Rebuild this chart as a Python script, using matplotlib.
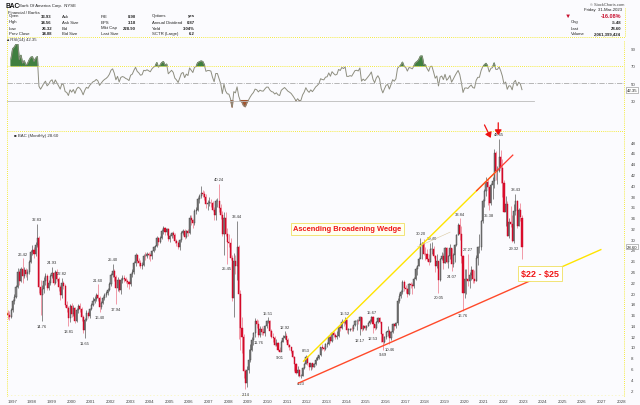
import numpy as np
import pandas as pd
import matplotlib
matplotlib.use("Agg")
import matplotlib.pyplot as plt

plt.rcParams["font.family"] = ["Liberation Sans", "DejaVu Sans"]

# ---- monthly candles, Jan 1997 .. Mar 2023 ----
start_year = 1997
close = [
    16.0, 15.6, 16.9, 18.6, 19.3, 21.2, 24.0, 22.2, 24.4, 23.2, 24.3, 23.6,   # 1997
    24.0, 25.8, 27.6, 28.0, 27.2, 29.0, 30.2, 21.2, 19.6, 20.8, 22.2, 23.2,   # 1998
    21.0, 21.8, 23.2, 23.8, 21.9, 23.9, 22.6, 21.2, 19.6, 21.9, 21.4, 17.8,   # 1999
    17.2, 15.3, 17.6, 16.2, 17.3, 14.9, 16.8, 17.6, 17.0, 15.6, 13.2, 15.0,   # 2000
    16.3, 15.8, 17.0, 17.8, 18.6, 18.9, 19.6, 19.1, 17.4, 18.2, 19.0, 19.6,   # 2001
    20.0, 20.6, 21.6, 23.4, 24.1, 23.0, 21.0, 22.4, 20.5, 22.4, 22.8, 22.6,   # 2002
    22.2, 22.0, 21.6, 23.5, 23.9, 25.5, 27.0, 26.0, 25.6, 25.0, 25.2, 26.9,   # 2003
    26.8, 27.2, 27.0, 26.8, 27.8, 28.5, 28.8, 30.3, 29.5, 30.3, 31.5, 32.0,   # 2004
    31.4, 31.8, 30.0, 30.6, 31.2, 30.8, 29.6, 29.2, 28.6, 29.8, 31.2, 31.5,   # 2005
    30.4, 31.5, 31.2, 34.0, 33.5, 33.0, 35.2, 35.5, 37.5, 38.0, 38.5, 38.4,   # 2006
    37.8, 36.5, 36.8, 36.8, 36.7, 35.5, 34.5, 37.0, 37.0, 35.8, 34.5, 31.0,   # 2007
    34.0, 31.0, 29.5, 29.3, 26.5, 19.0, 26.0, 25.0, 28.5, 19.8, 13.5, 11.8,   # 2008
    5.6, 3.3, 5.8, 7.5, 9.5, 11.2, 12.5, 14.9, 14.3, 12.3, 13.4, 12.7,        # 2009
    12.6, 13.8, 14.8, 14.8, 13.0, 11.9, 11.6, 10.3, 10.8, 9.5, 9.1, 11.0,     # 2010
    11.6, 12.1, 11.3, 10.4, 9.9, 9.3, 8.2, 6.9, 5.2, 5.8, 4.6, 4.7,           # 2011
    6.1, 6.9, 8.2, 7.0, 6.3, 7.0, 6.3, 6.9, 7.6, 8.0, 8.5, 10.0,              # 2012
    9.8, 9.7, 10.5, 10.6, 11.8, 11.1, 12.6, 12.2, 11.9, 12.1, 13.7, 13.5,     # 2013
    14.6, 14.4, 15.0, 13.2, 13.2, 13.4, 13.3, 14.0, 14.8, 14.9, 14.8, 15.6,   # 2014
    13.3, 13.8, 13.5, 13.9, 14.4, 14.9, 15.6, 14.3, 13.6, 14.7, 15.3, 14.7,   # 2015
    12.4, 11.0, 11.9, 12.8, 13.0, 11.7, 12.8, 14.2, 13.8, 14.5, 18.6, 19.5,   # 2016
    20.2, 22.0, 21.0, 20.8, 19.9, 21.6, 21.5, 21.3, 22.6, 24.4, 25.1, 26.3,   # 2017
    29.1, 29.2, 27.3, 27.2, 26.4, 25.7, 28.1, 28.2, 26.8, 25.0, 25.9, 22.4,   # 2018
    26.3, 26.9, 25.5, 28.3, 25.8, 26.8, 28.4, 25.4, 27.0, 28.9, 30.8, 32.6,   # 2019
    30.9, 26.8, 20.0, 22.6, 22.7, 22.3, 23.4, 24.2, 22.6, 22.3, 26.5, 28.5,   # 2020
    28.5, 33.3, 37.1, 38.9, 40.7, 39.6, 36.8, 40.1, 40.8, 45.9, 42.7, 42.7,   # 2021
    45.2, 43.3, 40.4, 35.0, 36.5, 30.5, 33.1, 32.9, 29.6, 35.3, 37.1, 32.5,   # 2022
    35.5, 34.08, 28.60,                                                      # 2023
]
high = [
    16.9, 16.6, 17.2, 18.9, 19.8, 21.5, 24.6, 24.3, 24.8, 26.42, 24.8, 24.6,
    24.5, 26.1, 28.0, 28.9, 28.5, 29.5, 32.83, 30.5, 22.5, 21.5, 23.0, 23.8,
    23.5, 22.5, 23.6, 24.93, 24.0, 24.2, 24.4, 23.0, 21.5, 22.82, 22.3, 21.6,
    18.5, 17.6, 18.0, 18.2, 17.8, 17.5, 17.2, 18.0, 18.2, 17.4, 15.9, 15.3,
    16.8, 16.6, 17.3, 18.2, 19.3, 19.5, 20.0, 21.6, 19.4, 18.6, 19.4, 20.0,
    20.4, 21.0, 22.0, 23.8, 25.4, 24.5, 23.4, 22.9, 22.6, 22.8, 23.4, 23.3,
    23.0, 22.6, 22.3, 23.8, 24.4, 26.0, 27.5, 27.2, 26.5, 26.2, 25.8, 27.2,
    27.6, 27.6, 27.6, 27.4, 28.0, 28.8, 29.0, 30.6, 30.4, 30.6, 31.8, 32.4,
    32.2, 32.0, 32.0, 30.9, 31.4, 31.5, 31.2, 30.0, 29.6, 30.0, 31.5, 31.8,
    31.8, 31.7, 31.8, 34.4, 34.5, 33.8, 35.6, 35.9, 37.8, 38.4, 39.8, 39.2,
    38.9, 38.4, 37.2, 37.8, 37.5, 37.0, 36.0, 37.4, 37.6, 40.24, 36.5, 35.2,
    35.0, 35.0, 32.0, 31.0, 30.2, 27.0, 27.5, 27.0, 33.44, 29.0, 20.5, 15.5,
    12.4, 6.0, 6.5, 9.6, 10.6, 11.9, 12.8, 15.3, 15.2, 15.0, 13.8, 13.8,
    13.6, 14.0, 15.0, 15.51, 15.0, 13.4, 12.6, 12.0, 11.4, 11.0, 10.0, 11.2,
    12.3, 12.92, 12.5, 11.6, 10.6, 10.0, 9.5, 8.3, 7.0, 6.4, 5.9, 4.9,
    6.3, 7.0, 8.53, 8.3, 7.1, 7.1, 7.1, 7.0, 8.1, 8.4, 8.6, 10.0,
    10.5, 10.2, 10.7, 10.9, 12.0, 12.0, 12.8, 12.9, 12.6, 13.0, 13.8, 14.0,
    15.1, 14.8, 15.52, 15.1, 13.5, 13.6, 13.8, 14.1, 15.0, 15.1, 15.1, 15.8,
    15.6, 14.0, 14.0, 14.1, 14.7, 15.1, 15.67, 15.7, 14.2, 14.9, 15.6, 15.5,
    14.7, 12.5, 12.1, 13.0, 13.9, 13.3, 12.9, 14.5, 14.3, 14.7, 19.0, 20.0,
    20.6, 22.4, 22.4, 21.5, 21.0, 21.9, 22.0, 21.8, 22.9, 24.8, 25.3, 26.7,
    30.2, 29.5, 30.0, 28.6, 28.2, 27.2, 29.2, 29.40, 28.8, 27.0, 27.3, 26.0,
    26.6, 27.6, 27.5, 28.6, 28.6, 27.1, 29.1, 28.4, 27.5, 29.1, 31.0, 33.0,
    33.84, 32.5, 27.0, 24.5, 24.5, 27.27, 24.0, 25.0, 24.5, 24.2, 27.0, 28.8,
    31.0, 33.6, 37.5, 39.3, 41.6, 41.3, 39.5, 40.5, 41.5, 46.7, 46.3, 43.6,
    48.65, 46.5, 44.8, 41.0, 38.0, 37.0, 34.0, 36.2, 34.5, 36.5, 38.43, 37.2,
    35.8, 36.7, 34.56,
]
low = [
    15.2, 15.0, 15.3, 16.5, 18.0, 19.0, 21.0, 21.5, 22.0, 21.8, 22.8, 23.0,
    22.5, 23.6, 25.5, 27.0, 26.5, 26.8, 28.5, 20.0, 16.0, 14.76, 20.0, 21.5,
    20.5, 20.6, 21.5, 22.8, 21.5, 21.6, 22.2, 20.4, 18.8, 19.0, 20.8, 17.5,
    16.4, 13.81, 14.6, 15.6, 15.7, 14.5, 14.6, 16.3, 16.5, 14.8, 12.5, 11.65,
    14.8, 15.4, 15.3, 16.8, 17.6, 18.2, 18.6, 18.6, 16.4, 17.1, 17.9, 18.8,
    19.2, 19.6, 20.3, 21.4, 23.0, 22.2, 17.94, 20.4, 20.2, 19.8, 21.9, 22.0,
    21.8, 21.2, 20.8, 21.4, 23.0, 23.6, 25.0, 25.5, 25.0, 24.6, 24.5, 25.0,
    26.2, 26.5, 26.4, 26.0, 26.4, 27.6, 28.0, 28.5, 29.0, 29.2, 30.0, 31.0,
    30.8, 30.8, 29.6, 29.4, 30.2, 30.2, 29.2, 28.8, 28.2, 28.0, 29.5, 30.8,
    30.0, 30.2, 30.6, 31.0, 32.6, 32.0, 32.6, 34.6, 35.2, 36.8, 37.6, 37.8,
    37.2, 35.8, 35.5, 36.2, 36.0, 35.2, 33.5, 33.6, 36.0, 35.0, 33.8, 30.5,
    27.0, 30.5, 25.45, 28.5, 26.2, 18.5, 15.5, 23.5, 22.5, 11.5, 9.5, 8.8,
    4.3, 2.14, 2.6, 5.2, 7.2, 9.2, 10.3, 11.8, 13.6, 11.76, 11.9, 12.2,
    12.2, 12.0, 13.5, 14.4, 12.0, 11.7, 10.9, 10.2, 10.1, 9.2, 9.01, 9.2,
    10.9, 11.5, 11.0, 10.0, 9.4, 8.9, 8.0, 5.6, 5.0, 4.6, 4.4, 4.23,
    4.7, 5.9, 6.8, 6.6, 5.8, 5.8, 6.0, 6.2, 6.7, 7.6, 7.7, 8.4,
    9.5, 9.2, 9.5, 9.9, 10.3, 10.7, 11.0, 11.8, 11.5, 11.5, 11.9, 12.9,
    13.4, 13.8, 14.2, 12.6, 12.4, 12.9, 13.0, 12.9, 13.8, 13.2, 14.2, 12.17,
    12.9, 13.1, 13.1, 13.2, 13.8, 14.2, 14.6, 12.53, 13.2, 13.3, 14.5, 14.4,
    11.0, 9.49, 10.7, 11.5, 12.0, 10.46, 11.3, 12.6, 13.2, 13.6, 14.1, 18.2,
    19.1, 19.8, 20.4, 20.0, 19.3, 19.6, 20.9, 19.8, 20.9, 22.4, 23.4, 25.0,
    26.5, 26.4, 27.0, 26.1, 25.9, 25.3, 25.7, 27.3, 26.6, 23.9, 24.7, 20.05,
    22.3, 26.1, 24.5, 25.5, 25.5, 24.6, 26.3, 24.07, 24.9, 25.7, 28.8, 30.8,
    29.8, 25.5, 16.76, 19.0, 19.8, 21.3, 21.0, 22.5, 21.8, 21.8, 22.2, 25.3,
    27.5, 28.0, 33.0, 36.0, 38.0, 36.4, 35.38, 36.4, 37.5, 39.5, 41.0, 40.2,
    42.5, 40.5, 37.8, 35.0, 32.5, 30.5, 30.2, 32.2, 29.4, 29.32, 34.5, 32.0,
    32.4, 33.4, 26.32,
]
first_open = 16.3
last_open = 33.93

# labelled highs/lows: (month index from Jan 1997, text, 'h' above / 'l' below)
point_labels = [
    (9, "26.42", "h"), (18, "32.83", "h"), (21, "14.76", "l"), (27, "24.93", "h"),
    (33, "22.82", "h"), (37, "13.81", "l"), (47, "11.65", "l"), (55, "21.60", "h"),
    (56, "16.40", "l"), (64, "25.40", "h"), (66, "17.94", "l"), (129, "40.24", "h"),
    (140, "33.44", "h"), (134, "25.45", "l"), (145, "2.14", "l"), (159, "15.51", "h"),
    (153, "11.76", "l"), (169, "12.92", "h"), (166, "9.01", "l"), (179, "4.23", "l"),
    (182, "8.53", "h"), (206, "15.52", "h"), (215, "12.17", "l"), (222, "15.67", "h"),
    (223, "12.53", "l"), (229, "9.49", "l"), (233, "10.46", "l"), (252, "30.20", "h"),
    (259, "29.40", "h"), (263, "20.05", "l"), (271, "24.07", "l"), (276, "33.84", "h"),
    (281, "27.27", "h"), (278, "16.76", "l"), (294, "35.38", "l"), (300, "48.65", "h"),
    (310, "38.43", "h"), (309, "29.32", "l"),
]

rsi_levels = [90, 70, 50, 30]
price_ticks = list(range(2, 50, 2))
years = list(range(1997, 2029))

W, H = 640, 406
BG = "#FBFBFE"
YEL = "#F2E600"


def fx(x):
    return x / W


def fy(y):
    return 1 - y / H


n = len(close)
t = start_year + (np.arange(n) + 0.5) / 12.0
c = np.array(close)
hi = np.array(high)
lo = np.array(low)
o = np.r_[first_open, c[:-1]]
o[-1] = last_open

# RSI(14), Wilder smoothing on the monthly closes
d = pd.Series(c).diff()
g = d.clip(lower=0).ewm(alpha=1 / 14, adjust=True).mean()
l_ = (-d.clip(upper=0)).ewm(alpha=1 / 14, adjust=True).mean()
rsi = (100 - 100 / (1 + g / l_)).to_numpy()

fig = plt.figure(figsize=(6.4, 4.06), dpi=100, facecolor=BG)
XL = (1997.0, 2028.4)

# ---------------- header ----------------
tk = dict(fontsize=3.1, color="#222222", va="center")
fig.text(fx(6), fy(6), "BAC", fontsize=4.8, fontweight="bold", color="#111111", va="center")
fig.text(fx(19), fy(6), "Bank Of America Corp.  NYSE", **tk)
fig.text(fx(8), fy(13), "Financial / Banks", **tk)
rows_y = [16.5, 22.5, 28.5, 34.2]
col1 = [("Open", "33.93"), ("High", "34.56"), ("Low", "26.32"), ("Prev Close", "34.08")]
col2 = ["Ask", "Ask Size", "Bid", "Bid Size"]
col3 = [("P/E", "8.90"), ("EPS", "3.18"), ("Mkt Cap", "228.90"), ("Last Size", "")]
col4 = [("Options", "yes"), ("Annual Dividend", "0.87"), ("Yield", "3.04%"), ("SCTR (Large)", "6.2")]
for y, (a, b), e, (p, q), (r, s) in zip(rows_y, col1, col2, col3, col4):
    fig.text(fx(9), fy(y), a, **tk)
    fig.text(fx(52), fy(y), b, ha="right", fontweight="bold", **tk)
    fig.text(fx(62), fy(y), e, **tk)
    fig.text(fx(101), fy(y), p, **tk)
    fig.text(fx(136), fy(y), q, ha="right", fontweight="bold", **tk)
    fig.text(fx(152), fy(y), r, **tk)
    fig.text(fx(195), fy(y), s, ha="right", fontweight="bold", **tk)
fig.text(fx(624), fy(4.5), "© StockCharts.com", ha="right", fontsize=2.9, color="#444444", va="center")
fig.text(fx(622), fy(10.5), "Friday  31-Mar-2023", ha="right", **tk)
fig.text(fx(568), fy(16), "▼", color="#C8102E", fontsize=4.5, va="center", ha="center")
fig.text(fx(621), fy(16), "-16.08%", ha="right", fontsize=4.0, color="#C8102E",
         fontweight="bold", va="center")
for y, a, b in [(22.5, "Chg", "-5.48"), (28.5, "Last", "28.60"), (34.2, "Volume", "2,061,399,424")]:
    fig.text(fx(571), fy(y), a, **tk)
    fig.text(fx(621), fy(y), b, ha="right", fontweight="bold", **tk)
fig.text(fx(6), fy(40.5), "▲RSI(14) 42.35", fontsize=3.1, color="#333333", va="center")

dots = (0, (1, 1.5))
fig.add_artist(plt.Line2D([fx(7), fx(625)], [fy(38), fy(38)], color=YEL, lw=0.6, ls=dots))
fig.add_artist(plt.Line2D([fx(625), fx(625)], [fy(9), fy(38)], color=YEL, lw=0.6, ls=dots))
fig.add_artist(plt.Line2D([fx(7), fx(7)], [fy(9), fy(397)], color=YEL, lw=0.6, ls=dots))
fig.add_artist(plt.Line2D([fx(624), fx(624)], [fy(42), fy(397)], color=YEL, lw=0.6, ls=dots))

# ---------------- RSI panel ----------------
ar = fig.add_axes([fx(7), fy(113), fx(617), (113 - 45) / H])
ar.set_facecolor(BG)
ar.set_xlim(*XL)
ar.set_ylim(17, 95)
ar.plot(t[2:], rsi[2:], color="#8E8E80", lw=0.7)
ar.fill_between(t[2:], rsi[2:], 70, where=rsi[2:] > 70, interpolate=True, color="#3F7F3F")
ar.fill_between(t[2:], rsi[2:], 30, where=rsi[2:] < 30, interpolate=True, color="#A0522D")
ar.axhline(70, color=YEL, lw=0.6, ls=dots)
ar.axhline(50, color="#AAAAAA", lw=0.6, ls="-.")
ar.plot([XL[0], 2023.8], [30, 30], color="#BBBBBB", lw=0.6)
ar.set_xticks([])
ar.yaxis.tick_right()
ar.set_yticks(rsi_levels)
ar.tick_params(axis="y", length=0, labelsize=3.2, labelcolor="#444444", pad=5)
for s in ar.spines.values():
    s.set_visible(False)
ar.text(1.005, (42.35 - 17) / 78, "42.35", transform=ar.transAxes, fontsize=3.1, va="center",
        ha="left", color="#222222", bbox=dict(boxstyle="square,pad=0.15", fc="white", ec="#888888", lw=0.4))

# ---------------- price panel ----------------
ax = fig.add_axes([fx(7), fy(397), fx(617), (397 - 113) / H])
ax.set_facecolor(BG)
ax.set_xlim(*XL)
ax.set_ylim(0.9, 53.6)
for s in ax.spines.values():
    s.set_visible(False)
ax.axhline(50, color=YEL, lw=0.6, ls=dots)
ax.axhline(0.9, color=YEL, lw=1.0, ls=dots)

up = c >= o
wick_col = np.where(up, "#777777", "#F08A9A")
ax.vlines(t, lo, hi, colors=wick_col, lw=0.6, zorder=2)
body_lo = np.minimum(o, c)
body_h = np.maximum(np.abs(c - o), 0.08)
ax.bar(t[up], body_h[up], bottom=body_lo[up], width=0.055, color="#8A8A8A",
       edgecolor="#3A3A3A", lw=0.3, zorder=3)
ax.bar(t[~up], body_h[~up], bottom=body_lo[~up], width=0.055, color="#E2102E",
       edgecolor="#C00020", lw=0.3, zorder=3)

for i, txt, side in point_labels:
    if side == "h":
        ax.text(t[i], hi[i] + 0.5, txt, fontsize=3.0, ha="center", va="bottom", color="#333333")
    else:
        ax.text(t[i], lo[i] - 0.5, txt, fontsize=3.0, ha="center", va="top", color="#333333")

# wedge lines
ut0, up0, ut1, up1 = 2012.09, 7.36, 2022.74, 45.6
u_at = lambda x: up0 + (x - ut0) * (up1 - up0) / (ut1 - ut0)
ax.plot([ut0, 2021.9], [up0, u_at(2021.9)], color="#FFE400", lw=1.0, zorder=4)
ax.plot([2020.9, ut1], [u_at(2020.9), up1], color="#FF3B2F", lw=0.9, zorder=4)
lt0, lp0, lt1, lp1 = 2011.83, 3.29, 2027.22, 28.06
l_at = lambda x: lp0 + (x - lt0) * (lp1 - lp0) / (lt1 - lt0)
lmid = 2023.7
ax.plot([lt0, lmid], [lp0, l_at(lmid)], color="#FF4A2A", lw=1.0, zorder=4)
ax.plot([lmid, lt1], [l_at(lmid), lp1], color="#FFE400", lw=1.0, zorder=4)

ax.text(2014.33, 31.9, "Ascending Broadening Wedge", fontsize=5.4, fontweight="bold", color="#F01818",
        ha="center", va="center", zorder=6,
        bbox=dict(boxstyle="square,pad=0.3", fc="#FFFFF0", ec="#F0E060", lw=0.6))
ax.plot([2019.55, 2017.9], [31.3, 28.6], color="#D8C8A0", lw=0.4, zorder=5)
ax.text(2024.12, 23.6, r"\$22 - \$25", fontsize=6.5, fontweight="bold", color="#F01818",
        ha="center", va="center", zorder=6,
        bbox=dict(boxstyle="square,pad=0.3", fc="white", ec="#F0E060", lw=0.6))

for (x0, y0, x1, y1) in [(2021.3, 51.2, 2021.62, 48.8), (2022.0, 51.6, 2022.0, 49.3)]:
    ax.annotate("", xy=(x1, y1), xytext=(x0, y0), zorder=6,
                arrowprops=dict(arrowstyle="-|>,head_width=0.2,head_length=0.3",
                                color="#EE1111", lw=0.9, shrinkA=0, shrinkB=0))

ax.text(1997.35, 49.4, "■ BAC (Monthly) 28.60", fontsize=3.2, color="#333333", va="center")

ax.yaxis.tick_right()
ax.set_yticks(price_ticks)
ax.tick_params(axis="y", length=0, labelsize=3.2, labelcolor="#444444", pad=5)
ax.text(1.005, (28.6 - 0.9) / 52.7, "28.60", transform=ax.transAxes, fontsize=3.1, va="center",
        ha="left", color="#222222", bbox=dict(boxstyle="square,pad=0.15", fc="white", ec="#888888", lw=0.4))
ax.set_xticks([y + 0.02 for y in years])
ax.set_xticklabels([str(y) for y in years])
ax.tick_params(axis="x", length=0, labelsize=3.2, labelcolor="#444444", pad=2)
for lab in ax.get_xticklabels():
    lab.set_ha("left")

fig.savefig("out.png", dpi=100, facecolor=BG)
